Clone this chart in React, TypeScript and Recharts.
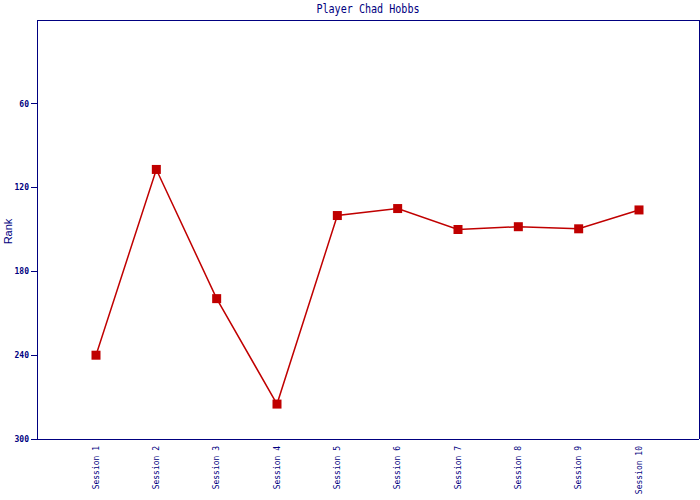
import React from "react";
import { LineChart, Line, XAxis, YAxis, Label } from "recharts";

const sessions = ["Session 1", "Session 2", "Session 3", "Session 4", "Session 5", "Session 6", "Session 7", "Session 8", "Session 9", "Session 10"];
const ranks = [240, 107, 199.5, 275, 140, 135, 150, 148, 149.5, 136];
const yTicks = [60, 120, 180, 240, 300];
const title = "Player Chad Hobbs";
const yLabel = "Rank";

const NAVY = "#000080";
const RED = "#c00000";
const MONO = "'DejaVu Sans Mono', 'Liberation Mono', monospace";

const data = sessions.map((s, i) => ({ session: s, rank: ranks[i] }));

const XTick = (props: any) => {
  const { x, y, payload } = props;
  return (
    <text
      x={x}
      y={y}
      transform={`rotate(-90, ${x}, ${y})`}
      textAnchor="end"
      dy="0.35em"
      dx={1}
      fill={NAVY}
      fontFamily={MONO}
      fontSize={8}
    >
      {payload.value}
    </text>
  );
};

const SquareDot = (props: any) => {
  const { cx, cy, index } = props;
  if (cx == null || cy == null) return null;
  return <rect key={index} x={cx - 4.5} y={cy - 4.5} width={9} height={9} fill={RED} />;
};

const RankLabel = (props: any) => {
  const vb = props.viewBox || {};
  const cy = (vb.y ?? 20) + (vb.height ?? 419) / 2 + 2;
  const cx = 8;
  return (
    <text
      x={cx}
      y={cy}
      transform={`rotate(-90, ${cx}, ${cy})`}
      textAnchor="middle"
      dy="0.35em"
      fill={NAVY}
      fontFamily="'Liberation Sans', Arial, sans-serif"
      fontSize={11}
    >
      {yLabel}
    </text>
  );
};

const axisStyle = { stroke: NAVY, strokeWidth: 1, shapeRendering: "crispEdges" };

export default function App() {
  return (
    <div style={{ position: "absolute", left: 0, top: 0, width: 700, height: 500, background: "#fff" }}>
      <div
        style={{
          position: "absolute",
          left: 37,
          width: 662,
          top: 2,
          textAlign: "center",
          fontFamily: MONO,
          fontSize: 12,
          lineHeight: "14px",
          color: NAVY,
          transform: "scaleX(0.84)",
        }}
      >
        {title}
      </div>
      <LineChart width={700} height={500} data={data} margin={{ top: 19, right: 0, bottom: 0, left: 0 }}>
        <XAxis
          dataKey="session"
          height={61}
          padding={{ left: 59, right: 60 }}
          axisLine={axisStyle}
          tickLine={false}
          tick={<XTick />}
          interval={0}
        />
        <XAxis xAxisId="top" dataKey="session" orientation="top" height={1} tick={false} tickLine={false} axisLine={axisStyle} />
        <YAxis
          reversed
          domain={[0, 300]}
          ticks={yTicks}
          width={37}
          axisLine={axisStyle}
          tickLine={axisStyle}
          tickSize={6}
          tick={{ fill: NAVY, fontFamily: MONO, fontSize: 8, fontWeight: "bold" }}
        >
          <Label content={<RankLabel />} />
        </YAxis>
        <YAxis yAxisId="right" orientation="right" domain={[0, 300]} width={1} tick={false} tickLine={false} axisLine={axisStyle} />
        <Line
          type="linear"
          dataKey="rank"
          stroke={RED}
          strokeWidth={1.5}
          dot={<SquareDot />}
          activeDot={false}
          isAnimationActive={false}
        />
      </LineChart>
    </div>
  );
}
